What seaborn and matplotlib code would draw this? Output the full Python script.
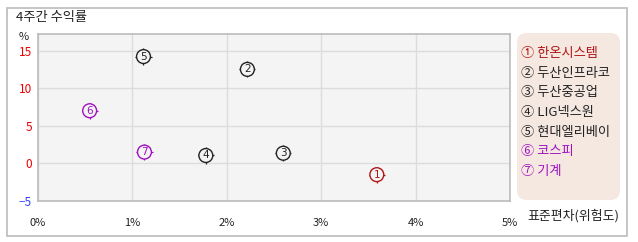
import matplotlib
matplotlib.use("Agg")
import matplotlib.pyplot as plt
from matplotlib.patches import FancyBboxPatch, Rectangle
import seaborn as sns
import pandas as pd

# ---- data ----
names = ["한온시스템", "두산인프라코", "두산중공업", "LIG넥스원", "현대엘리베이", "코스피", "기계"]
marks = ["①", "②", "③", "④", "⑤", "⑥", "⑦"]
digits = ["1", "2", "3", "4", "5", "6", "7"]
std_risk = [3.59, 2.22, 2.60, 1.78, 1.12, 0.55, 1.13]      # x, %
ret_4w = [-1.5, 12.5, 1.35, 1.05, 14.2, 7.0, 1.5]         # y, %
x_ticks = [0, 1, 2, 3, 4, 5]
x_tick_labels = ["0%", "1%", "2%", "3%", "4%", "5%"]
y_ticks = [-5, 0, 5, 10, 15]
y_tick_labels = ["−5", "0", "5", "10", "15"]
title = "4주간 수익률"
x_label = "표준편차(위험도)"
y_unit = "%"

palette = {"한온시스템": "#b01515", "두산인프라코": "#222222", "두산중공업": "#222222",
           "LIG넥스원": "#222222", "현대엘리베이": "#222222", "코스피": "#a010c0", "기계": "#a010c0"}

df = pd.DataFrame({"name": names, "x": std_risk, "y": ret_4w, "d": digits})

sns.set_theme(style="white")
plt.rcParams["font.family"] = ["Noto Sans CJK KR", "DejaVu Sans"]
plt.rcParams["axes.unicode_minus"] = True

W, H = 638, 242
fig = plt.figure(figsize=(W / 100, H / 100), dpi=100)
fig.patch.set_facecolor("white")

# outer frame
fig.patches.append(Rectangle((6.5 / W, 1 - 235.5 / H), (627 - 6.5) / W, (235.5 - 7.5) / H,
                             transform=fig.transFigure, fill=False, edgecolor="#bbbbbb", lw=1.2))

x0, x1, y0, y1 = 37.7, 510, 34, 201
ax = fig.add_axes([x0 / W, 1 - y1 / H, (x1 - x0) / W, (y1 - y0) / H])
ax.set_facecolor("#f4f4f4")

# tick stubs around markers (drawn under the circles)
sns.scatterplot(data=df, x="x", y="y", hue="name", palette=palette, ax=ax,
                s=135, marker="+", linewidth=0.9, legend=False, zorder=2)
sns.scatterplot(data=df, x="x", y="y", ax=ax, s=100, marker="o",
                color="#f4f4f4", edgecolor="none", legend=False, zorder=3)
sns.scatterplot(data=df, x="x", y="y", hue="name", palette=palette, ax=ax,
                s=100, marker="o", linewidth=1.0, legend=False, zorder=4)
coll = ax.collections[-1]
coll.set_edgecolors(coll.get_facecolors())
coll.set_facecolors("none")
for _, r in df.iterrows():
    ax.text(r.x, r.y, r.d, ha="center", va="center", fontsize=7.5,
            color=palette[r["name"]], family="DejaVu Sans", zorder=5)

ax.set_xlim(0, 5)
ax.set_ylim(-5, 17.2)
ax.set_xticks(x_ticks)
ax.set_yticks(y_ticks)
ax.set_xticklabels(x_tick_labels, fontsize=8, color="#222222")
ax.set_yticklabels(y_tick_labels, fontsize=8.5)
for lab, v in zip(ax.get_yticklabels(), y_ticks):
    lab.set_color("#3344ff" if v < 0 else "#ee0000")
ax.tick_params(axis="both", length=0, pad=4)
ax.tick_params(axis="x", pad=12)
ax.grid(True, color="#dcdcdc", lw=1)
ax.set_axisbelow(True)
for s in ax.spines.values():
    s.set_color("#bbbbbb")
    s.set_linewidth(1.2)
ax.set_xlabel("")
ax.set_ylabel("")

fig.text(16 / W, 1 - 17 / H, title, fontsize=9.5, color="#222222", va="center", ha="left")
fig.text(24 / W, 1 - 37 / H, y_unit, fontsize=8, color="#222222", va="center", ha="center")
fig.text(527 / W, 1 - 216 / H, x_label, fontsize=9.3, color="#222222", va="center", ha="left")

# legend box
lx0, lx1, ly0, ly1 = 517, 620, 33, 200
fig.patches.append(FancyBboxPatch((lx0 / W, 1 - ly1 / H), (lx1 - lx0) / W, (ly1 - ly0) / H,
                                  boxstyle="round,pad=0,rounding_size=0.015",
                                  transform=fig.transFigure, facecolor="#f5e8e1",
                                  edgecolor="none", mutation_aspect=W / H))
for i, (m, n) in enumerate(zip(marks, names)):
    fig.text(521 / W, 1 - (53.5 + i * 19.7) / H, m + " " + n, fontsize=9.5,
             color=palette[n], va="center", ha="left")

fig.savefig("out.png", dpi=100, facecolor="white")
